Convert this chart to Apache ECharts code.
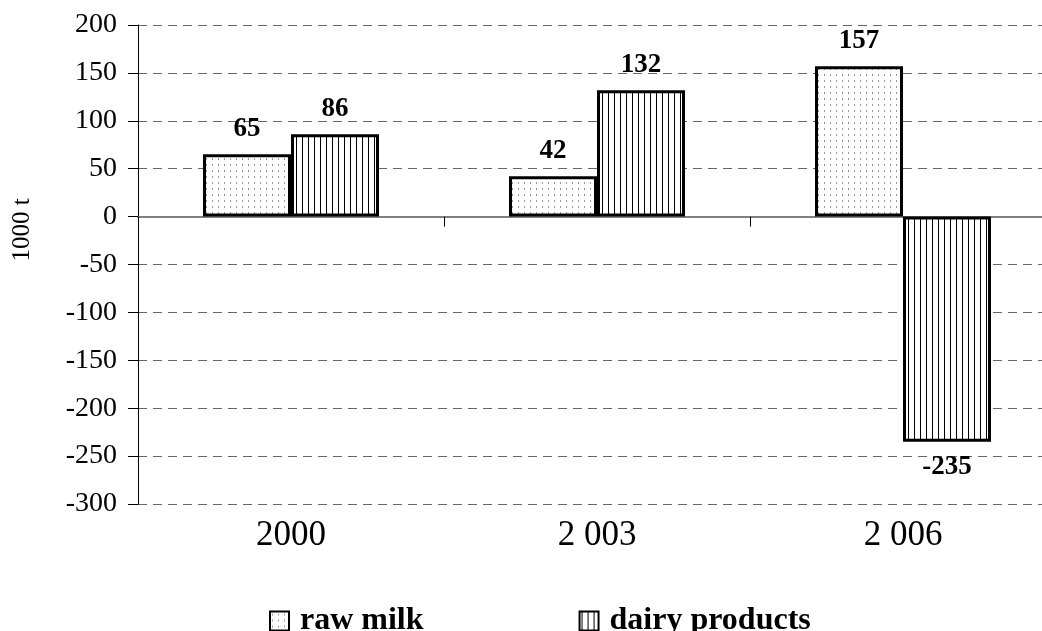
<!DOCTYPE html>
<html>
<head>
<meta charset="utf-8">
<script src="https://cdn.jsdelivr.net/npm/echarts@6/dist/echarts.min.js"></script>
<style>
  html, body { margin: 0; padding: 0; background: #fff; }
  #chart { width: 1042px; height: 631px; }
</style>
</head>
<body>
<div id="chart"></div>
<script>
const years = ['2000', '2 003', '2 006']
const rawMilk = [65, 42, 157]
const dairyProducts = [86, 132, -235]
const seriesNames = ['raw milk', 'dairy products']
const yTicks = { min: -300, max: 200, interval: 50 }

const FONT = '"Liberation Serif", "Times New Roman", serif'

// fill patterns drawn on small canvases
function dotPattern() {
  const c = document.createElement('canvas')
  c.width = 6
  c.height = 6
  const ctx = c.getContext('2d')
  ctx.fillStyle = '#fff'
  ctx.fillRect(0, 0, 6, 6)
  ctx.fillStyle = '#999'
  ctx.fillRect(2, 2, 1, 2)
  return c
}

function stripePattern() {
  const c = document.createElement('canvas')
  c.width = 6
  c.height = 6
  const ctx = c.getContext('2d')
  ctx.fillStyle = '#fff'
  ctx.fillRect(0, 0, 6, 6)
  ctx.fillStyle = '#000'
  ctx.fillRect(2, 0, 1, 6)
  return c
}

const fills = [
  { image: dotPattern(), repeat: 'repeat' },
  { image: stripePattern(), repeat: 'repeat' }
]

function labelled(values) {
  return values.map(v => ({
    value: v,
    label: { position: v < 0 ? 'bottom' : 'top' }
  }))
}

const chart = echarts.init(document.getElementById('chart'), null, { renderer: 'canvas' })

const option = {
  animation: false,
  backgroundColor: '#fff',
  grid: {
    left: 138,
    right: -14,
    top: 25,
    bottom: 127,
    containLabel: false,
    outerBoundsMode: 'none'
  },
  legend: {
    left: 264,
    top: 600,
    itemWidth: 19,
    itemHeight: 19,
    itemGap: 155,
    icon: 'rect',
    textStyle: {
      fontFamily: FONT,
      fontSize: 32,
      fontWeight: 'bold',
      color: '#000',
      padding: [0, 0, 0, 6]
    },
    data: seriesNames
  },
  xAxis: [
    {
      type: 'category',
      position: 'bottom',
      data: years,
      axisLine: { show: false, onZero: false },
      axisTick: { show: false },
      axisLabel: {
        margin: 14,
        fontFamily: FONT,
        fontSize: 35,
        color: '#000'
      }
    },
    {
      type: 'category',
      position: 'bottom',
      data: years,
      axisLine: { show: true, onZero: true, lineStyle: { color: '#808080', width: 2 } },
      axisTick: { show: true, length: 10, lineStyle: { color: '#000', width: 1 } },
      axisLabel: { show: false }
    }
  ],
  yAxis: {
    type: 'value',
    min: yTicks.min,
    max: yTicks.max,
    interval: yTicks.interval,
    name: '1000 t',
    nameLocation: 'middle',
    nameGap: 103,
    nameRotate: 90,
    nameTextStyle: {
      fontFamily: FONT,
      fontSize: 25,
      color: '#000',
      padding: [0, 0, 0, 69]
    },
    axisLine: { show: true, lineStyle: { color: '#000', width: 1 } },
    axisTick: { show: true, length: 10, lineStyle: { color: '#000' } },
    axisLabel: {
      margin: 21,
      fontFamily: FONT,
      fontSize: 28,
      color: '#000'
    },
    splitLine: {
      show: true,
      lineStyle: { color: '#666', type: [9, 6], width: 1 }
    }
  },
  series: [
    {
      name: seriesNames[0],
      type: 'bar',
      xAxisIndex: 0,
      barWidth: 88,
      barGap: '0%',
      data: labelled(rawMilk),
      itemStyle: { color: fills[0], borderColor: '#000', borderWidth: 3 },
      label: {
        show: true,
        distance: 12,
        fontFamily: FONT,
        fontSize: 27,
        fontWeight: 'bold',
        color: '#000'
      }
    },
    {
      name: seriesNames[1],
      type: 'bar',
      xAxisIndex: 0,
      barWidth: 88,
      barGap: '0%',
      data: labelled(dairyProducts),
      itemStyle: { color: fills[1], borderColor: '#000', borderWidth: 3 },
      label: {
        show: true,
        distance: 12,
        fontFamily: FONT,
        fontSize: 27,
        fontWeight: 'bold',
        color: '#000'
      }
    }
  ]
}

chart.setOption(option)
</script>
</body>
</html>
